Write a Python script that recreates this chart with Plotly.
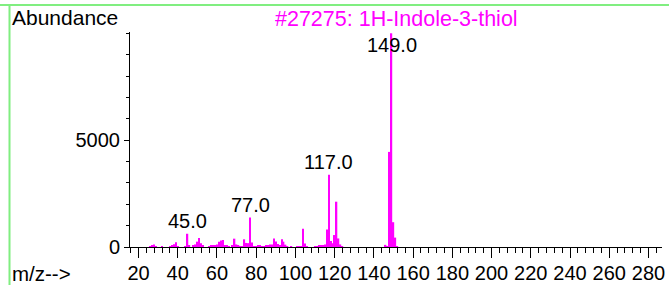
import plotly.graph_objects as go

# ---- data ----
mz = [26, 27, 28, 29, 32, 36, 37, 38, 39, 40, 44, 45, 46, 48, 49, 50, 51, 52, 53,
      56, 57, 58, 59, 60, 61, 62, 63, 64, 65, 66, 68, 69, 70, 71, 72, 73, 74, 75,
      76, 77, 78, 79, 80, 81, 82, 83, 84, 85, 86, 87, 88, 89, 90, 91, 92, 93, 94,
      95, 96, 98, 101, 102, 103, 104, 105, 106, 110, 111, 112, 113, 114, 115, 116,
      117, 118, 119, 120, 121, 122, 123, 124, 146, 147, 148, 149, 150, 151, 152]
abundance = [40, 60, 120, 40, 30, 30, 70, 130, 220, 40, 40, 620, 60, 50, 120, 250, 420, 170, 60,
             40, 80, 60, 60, 120, 240, 300, 330, 90, 50, 40, 60, 390, 120, 80, 40, 40, 360, 190,
             180, 1380, 210, 40, 30, 60, 60, 40, 40, 50, 60, 120, 120, 400, 260, 140, 60, 360, 250,
             110, 40, 30, 30, 40, 40, 850, 160, 40, 30, 40, 50, 60, 50, 120, 820,
             3380, 280, 170, 560, 2120, 400, 120, 30, 100, 40, 4450, 10000, 1160, 440, 40]
labelled_peaks = [45, 77, 117, 149]
y_tick_values = [0, 5000]
title_text = "#27275: 1H-Indole-3-thiol"
y_title = "Abundance"
x_title = "m/z-->"
x_range = [15.66, 286.9]
y_range = [0, 10060]

W, H = 669, 285
ML, MR, MT, MB = 130, 7, 32, 38
PW, PH = W - ML - MR, H - MT - MB


def px_x(p):
    return (p - ML) / PW


def px_y(p):
    return (H - MB - p) / PH


FONT = "Liberation Sans, Arial, sans-serif"
MAG = "#ff00ff"
GREEN = "rgb(128,238,128)"

fig = go.Figure()
fig.add_trace(go.Bar(x=mz, y=abundance, width=0.7, marker_color=MAG,
                     marker_line_width=0, hoverinfo="x+y"))

annotations = []
val = dict(zip(mz, abundance))
label_h_data = 25 * (y_range[1] - y_range[0]) / PH
for m in labelled_peaks:
    v = val[m]
    if v + label_h_data > y_range[1]:
        annotations.append(dict(x=m, y=y_range[1], xref="x", yref="y", text=f"{m:.1f}",
                                showarrow=False, xanchor="center", yanchor="top",
                                font=dict(family=FONT, size=20, color="black")))
    else:
        annotations.append(dict(x=m, y=v, xref="x", yref="y", text=f"{m:.1f}",
                                showarrow=False, xanchor="center", yanchor="bottom",
                                font=dict(family=FONT, size=20, color="black")))

annotations.append(dict(x=px_x(10), y=px_y(17.5), xref="paper", yref="paper", text=y_title,
                        showarrow=False, xanchor="left", yanchor="middle",
                        font=dict(family=FONT, size=21, color="black")))
annotations.append(dict(x=0.5, y=px_y(19.5), xref="paper", yref="paper", text=title_text,
                        showarrow=False, xanchor="center", yanchor="middle",
                        font=dict(family=FONT, size=21.5, color=MAG)))
annotations.append(dict(x=px_x(10), y=px_y(273.5), xref="paper", yref="paper", text=x_title,
                        showarrow=False, xanchor="left", yanchor="middle",
                        font=dict(family=FONT, size=20.5, color="black")))

shapes = [
    dict(type="line", xref="paper", yref="paper", x0=px_x(0), x1=px_x(W), y0=px_y(5), y1=px_y(5),
         line=dict(color=GREEN, width=2)),
    dict(type="line", xref="paper", yref="paper", x0=px_x(9.5), x1=px_x(9.5), y0=px_y(5), y1=px_y(H),
         line=dict(color=GREEN, width=2)),
]

fig.update_layout(
    width=W, height=H, autosize=False,
    margin=dict(l=ML, r=MR, t=MT, b=MB, pad=0, autoexpand=False),
    paper_bgcolor="white", plot_bgcolor="white",
    showlegend=False,
    annotations=annotations, shapes=shapes,
    font=dict(family=FONT, size=20, color="black"),
)
fig.update_xaxes(range=x_range, showline=True, linecolor="black", linewidth=1, automargin=False,
                 showgrid=False, zeroline=False, ticks="outside", ticklen=10, tickcolor="black",
                 tickmode="linear", tick0=0, dtick=20, ticklabelstandoff=-2,
                 minor=dict(ticks="outside", ticklen=5, tickcolor="black", dtick=4, tick0=0, showgrid=False),
                 tickfont=dict(family=FONT, size=20, color="black"))
fig.update_yaxes(range=y_range, showline=True, linecolor="black", linewidth=1, automargin=False,
                 showgrid=False, zeroline=False, ticks="outside", ticklen=5, tickcolor="black",
                 tickmode="array", tickvals=y_tick_values, ticktext=[str(v) for v in y_tick_values],
                 minor=dict(ticks="outside", ticklen=3, tickcolor="black", tickmode="linear",
                            dtick=1000, tick0=0, showgrid=False),
                 tickfont=dict(family=FONT, size=20, color="black"))

fig.write_html("out.html", post_script="document.body.style.margin='0';",
               config={"displayModeBar": False})
